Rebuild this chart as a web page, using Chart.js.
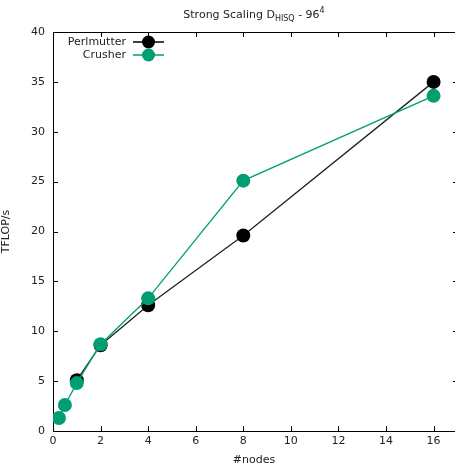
<!DOCTYPE html>
<html>
<head>
<meta charset="utf-8">
<script src="https://cdn.jsdelivr.net/npm/chart.js@4.4.1/dist/chart.umd.min.js"></script>
<style>
  html, body { margin: 0; padding: 0; background: #fff; }
  #wrap { width: 455px; height: 467px; }
</style>
</head>
<body>
<div id="wrap"><canvas id="chart" width="455" height="467"></canvas></div>
<script>
// Datos
const perlmutterNodes = [1, 2, 4, 8, 16];
const perlmutterTflops = [5.1, 8.6, 12.6, 19.6, 35.0];
const crusherNodes = [0.25, 0.5, 1, 2, 4, 8, 16];
const crusherTflops = [1.3, 2.6, 4.8, 8.7, 13.3, 25.1, 33.6];
const xTicks = [0, 2, 4, 6, 8, 10, 12, 14, 16];
const yTicks = [0, 5, 10, 15, 20, 25, 30, 35, 40];

const FONT = 'DejaVu Sans';
const GREEN = '#009e73';

const toPoints = (xs, ys) => xs.map((x, i) => ({ x: x, y: ys[i] }));

// Marco, ticks hacia dentro, titulo y leyenda al estilo gnuplot
const gnuplotDeco = {
  id: 'gnuplotDeco',
  afterDraw(chart) {
    const ctx = chart.ctx;
    const a = chart.chartArea;
    const xs = chart.scales.x, ys = chart.scales.y;
    ctx.save();
    ctx.strokeStyle = '#000';
    ctx.lineWidth = 1;
    ctx.beginPath();
    ctx.moveTo(a.left, a.top + 0.5);
    ctx.lineTo(a.right, a.top + 0.5);
    xTicks.forEach(v => {
      const px = Math.round(xs.getPixelForValue(v)) + 0.5;
      ctx.moveTo(px, a.bottom); ctx.lineTo(px, a.bottom - 5);
      ctx.moveTo(px, a.top); ctx.lineTo(px, a.top + 5);
    });
    yTicks.forEach(v => {
      const py = Math.round(ys.getPixelForValue(v)) + 0.5;
      ctx.moveTo(a.left, py); ctx.lineTo(a.left + 5, py);
      ctx.moveTo(a.right, py); ctx.lineTo(a.right - 2, py);
    });
    ctx.stroke();

    // titulo con subindice y superindice
    ctx.fillStyle = '#222';
    ctx.textBaseline = 'alphabetic';
    const parts = [
      { t: 'Strong Scaling D', s: 11, dy: 0 },
      { t: 'HISQ', s: 8, dy: 3 },
      { t: ' - 96', s: 11, dy: 0 },
      { t: '4', s: 8, dy: -5 }
    ];
    let total = 0;
    parts.forEach(p => { ctx.font = p.s + 'px ' + FONT; p.w = ctx.measureText(p.t).width; total += p.w; });
    let cx = (a.left + a.right) / 2 - total / 2;
    parts.forEach(p => {
      ctx.font = p.s + 'px ' + FONT;
      ctx.textAlign = 'left';
      ctx.fillText(p.t, cx, 18 + p.dy);
      cx += p.w;
    });

    // leyenda
    ctx.font = '11px ' + FONT;
    ctx.textAlign = 'right';
    ctx.textBaseline = 'middle';
    const entries = [
      { label: 'Perlmutter', color: '#000', y: 42 },
      { label: 'Crusher', color: GREEN, y: 55 }
    ];
    entries.forEach(e => {
      ctx.fillStyle = '#222';
      ctx.fillText(e.label, 126, e.y);
      ctx.strokeStyle = e.color;
      ctx.lineWidth = 1.5;
      ctx.beginPath();
      ctx.moveTo(133, e.y); ctx.lineTo(164, e.y);
      ctx.stroke();
      ctx.fillStyle = e.color;
      ctx.beginPath();
      ctx.arc(148.5, e.y, 6.5, 0, Math.PI * 2);
      ctx.fill();
    });
    ctx.restore();
  }
};

new Chart(document.getElementById('chart'), {
  type: 'scatter',
  data: {
    datasets: [
      {
        label: 'Perlmutter',
        data: toPoints(perlmutterNodes, perlmutterTflops),
        showLine: true,
        borderColor: '#222',
        backgroundColor: '#000',
        borderWidth: 1.3,
        pointRadius: 7,
        pointHoverRadius: 7,
        pointBorderWidth: 0,
        order: 2
      },
      {
        label: 'Crusher',
        data: toPoints(crusherNodes, crusherTflops),
        showLine: true,
        borderColor: GREEN,
        backgroundColor: GREEN,
        borderWidth: 1.3,
        pointRadius: 7,
        pointHoverRadius: 7,
        pointBorderWidth: 0,
        order: 1
      }
    ]
  },
  options: {
    responsive: false,
    animation: false,
    events: [],
    layout: { autoPadding: false, padding: { top: 32, right: 0, left: 0, bottom: 0 } },
    plugins: { legend: { display: false }, tooltip: { enabled: false } },
    scales: {
      x: {
        type: 'linear',
        min: 0,
        max: 16.9,
        afterFit: s => { s.height = 36; },
        afterBuildTicks: s => { s.ticks = xTicks.map(v => ({ value: v })); },
        grid: { display: false, drawTicks: false },
        border: { display: true, color: '#000', width: 1 },
        ticks: { color: '#222', font: { family: FONT, size: 11 }, padding: 4, maxRotation: 0 },
        title: { display: true, text: '#nodes', color: '#222', font: { family: FONT, size: 11 }, padding: { top: 2, bottom: 0 } }
      },
      y: {
        min: 0,
        max: 40,
        afterFit: s => { s.width = 53; },
        afterBuildTicks: s => { s.ticks = yTicks.map(v => ({ value: v })); },
        grid: { display: false, drawTicks: false },
        border: { display: true, color: '#000', width: 1 },
        ticks: { color: '#222', font: { family: FONT, size: 11 }, padding: 8 },
        title: { display: true, text: 'TFLOP/s', color: '#222', font: { family: FONT, size: 11 }, padding: { top: 0, bottom: 0 } }
      }
    }
  },
  plugins: [gnuplotDeco]
});
</script>
</body>
</html>
